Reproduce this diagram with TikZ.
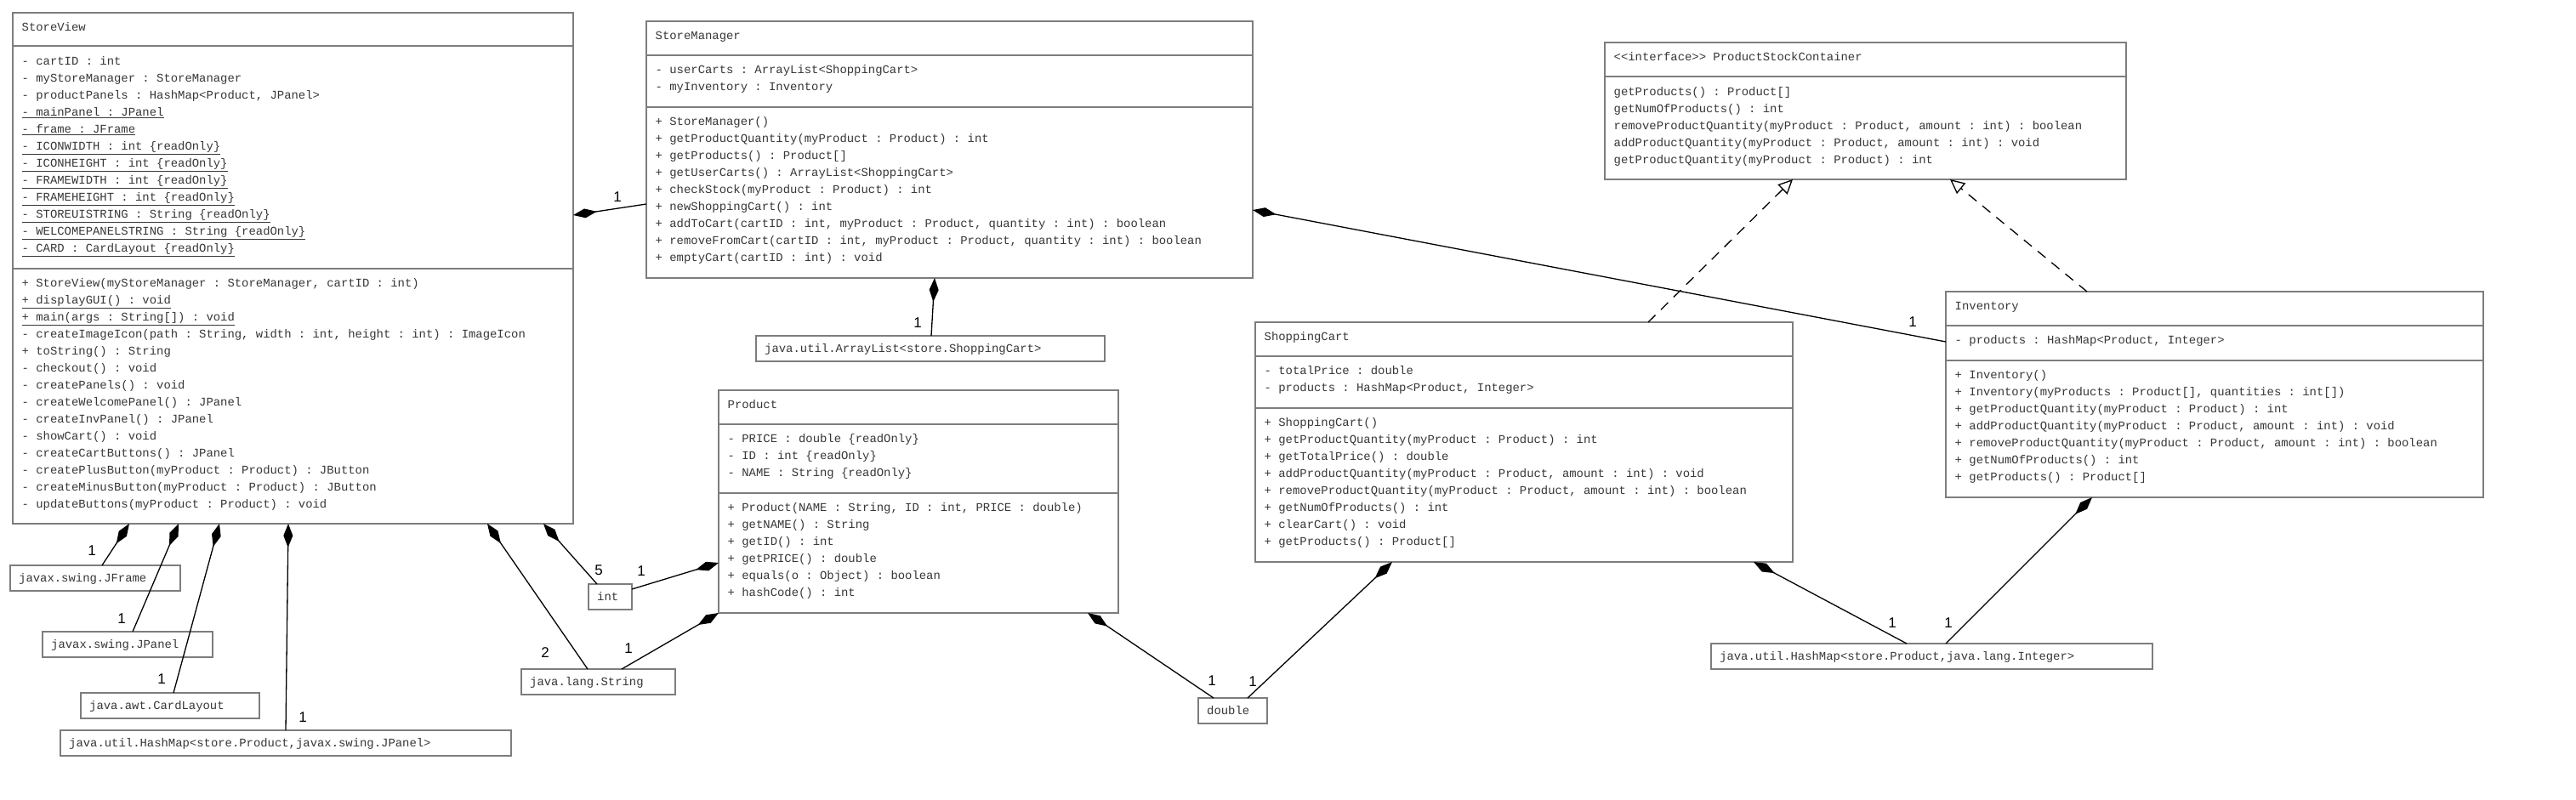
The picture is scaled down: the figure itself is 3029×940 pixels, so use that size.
\documentclass[tikz,border=0pt]{standalone}
\usepackage{fontspec}
\setmonofont{Liberation Mono}
\newfontfamily\labfont{Liberation Sans}
\usetikzlibrary{arrows.meta}
\definecolor{boxgray}{RGB}{125,125,125}
\definecolor{txtgray}{RGB}{55,55,55}
\tikzset{
 umlbox/.style={draw=boxgray, line width=2.4pt, fill=white, inner sep=0pt, outer sep=0pt, anchor=north west},
 sepline/.style={draw=boxgray, line width=2.4pt},
 mono/.style={font=\ttfamily\fontsize{13.9}{20}\selectfont, text=txtgray, inner sep=0pt, anchor=base west},
 mult/.style={font=\labfont\fontsize{17}{20}\selectfont, inner sep=0pt},
 comp/.style={line width=1.3pt, {Diamond[length=28pt,width=11pt]}-},
 realize/.style={line width=1.3pt, dash pattern=on 12pt off 9pt, -{Triangle[open,fill=white,length=17pt,width=16pt]}},
}
\newcommand{\classlines}[4]{%
 \foreach \t [count=\i] in {#4} \node[mono] (#1\i) at ({#2},{#3+4.5+20*(\i-1)}) {\t};}
\begin{document}
\begin{tikzpicture}[x=1pt,y=-1pt]
\fill[white] (0,0) rectangle (3029,940);
\useasboundingbox (0,0) rectangle (3029,940);

% ---------- StoreView
\node[umlbox, minimum width=659pt, minimum height=601pt] (sv) at (15,15) {};
\draw[sepline] ([yshift=-39pt]sv.north west) -- ([yshift=-39pt]sv.north east);
\draw[sepline] ([yshift=-301pt]sv.north west) -- ([yshift=-301pt]sv.north east);
\node[mono] (svh) at (25.5,36.5) {StoreView};
\classlines{sva}{25.5}{72}{{- cartID : int},{- myStoreManager : StoreManager},{- productPanels : HashMap<Product, JPanel>},{\underline{- mainPanel : JPanel}},{\underline{- frame : JFrame}},{\underline{- ICONWIDTH : int \{readOnly\}}},{\underline{- ICONHEIGHT : int \{readOnly\}}},{\underline{- FRAMEWIDTH : int \{readOnly\}}},{\underline{- FRAMEHEIGHT : int \{readOnly\}}},{\underline{- STOREUISTRING : String \{readOnly\}}},{\underline{- WELCOMEPANELSTRING : String \{readOnly\}}},{\underline{- CARD : CardLayout \{readOnly\}}}}
\classlines{svm}{25.5}{333}{{+ StoreView(myStoreManager : StoreManager, cartID : int)},{\underline{+ displayGUI() : void}},{\underline{+ main(args : String[]) : void}},{- createImageIcon(path : String, width : int, height : int) : ImageIcon},{+ toString() : String},{- checkout() : void},{- createPanels() : void},{- createWelcomePanel() : JPanel},{- createInvPanel() : JPanel},{- showCart() : void},{- createCartButtons() : JPanel},{- createPlusButton(myProduct : Product) : JButton},{- createMinusButton(myProduct : Product) : JButton},{- updateButtons(myProduct : Product) : void}}

% ---------- StoreManager
\node[umlbox, minimum width=713pt, minimum height=302pt] (sm) at (760,25) {};
\draw[sepline] ([yshift=-40pt]sm.north west) -- ([yshift=-40pt]sm.north east);
\draw[sepline] ([yshift=-101pt]sm.north west) -- ([yshift=-101pt]sm.north east);
\node[mono] (smh) at (770.5,46.5) {StoreManager};
\classlines{sma}{770.5}{82}{{- userCarts : ArrayList<ShoppingCart>},{- myInventory : Inventory}}
\classlines{smm}{770.5}{143}{{+ StoreManager()},{+ getProductQuantity(myProduct : Product) : int},{+ getProducts() : Product[]},{+ getUserCarts() : ArrayList<ShoppingCart>},{+ checkStock(myProduct : Product) : int},{+ newShoppingCart() : int},{+ addToCart(cartID : int, myProduct : Product, quantity : int) : boolean},{+ removeFromCart(cartID : int, myProduct : Product, quantity : int) : boolean},{+ emptyCart(cartID : int) : void}}

% ---------- ProductStockContainer
\node[umlbox, minimum width=613pt, minimum height=161pt] (psc) at (1887,50) {};
\draw[sepline] ([yshift=-40pt]psc.north west) -- ([yshift=-40pt]psc.north east);
\node[mono] (psch) at (1897.5,71.5) {<<interface>> ProductStockContainer};
\classlines{pscm}{1897.5}{108}{{getProducts() : Product[]},{getNumOfProducts() : int},{removeProductQuantity(myProduct : Product, amount : int) : boolean},{addProductQuantity(myProduct : Product, amount : int) : void},{getProductQuantity(myProduct : Product) : int}}

% ---------- Inventory
\node[umlbox, minimum width=632pt, minimum height=242pt] (inv) at (2288,343) {};
\draw[sepline] ([yshift=-40pt]inv.north west) -- ([yshift=-40pt]inv.north east);
\draw[sepline] ([yshift=-81pt]inv.north west) -- ([yshift=-81pt]inv.north east);
\node[mono] (invh) at (2298.5,364.5) {Inventory};
\classlines{inva}{2298.5}{400}{{- products : HashMap<Product, Integer>}}
\classlines{invm}{2298.5}{441}{{+ Inventory()},{+ Inventory(myProducts : Product[], quantities : int[])},{+ getProductQuantity(myProduct : Product) : int},{+ addProductQuantity(myProduct : Product, amount : int) : void},{+ removeProductQuantity(myProduct : Product, amount : int) : boolean},{+ getNumOfProducts() : int},{+ getProducts() : Product[]}}

% ---------- ShoppingCart
\node[umlbox, minimum width=632pt, minimum height=282pt] (sc) at (1476,379) {};
\draw[sepline] ([yshift=-40pt]sc.north west) -- ([yshift=-40pt]sc.north east);
\draw[sepline] ([yshift=-101pt]sc.north west) -- ([yshift=-101pt]sc.north east);
\node[mono] (sch) at (1486.5,400.5) {ShoppingCart};
\classlines{sca}{1486.5}{436}{{- totalPrice : double},{- products : HashMap<Product, Integer>}}
\classlines{scm}{1486.5}{497}{{+ ShoppingCart()},{+ getProductQuantity(myProduct : Product) : int},{+ getTotalPrice() : double},{+ addProductQuantity(myProduct : Product, amount : int) : void},{+ removeProductQuantity(myProduct : Product, amount : int) : boolean},{+ getNumOfProducts() : int},{+ clearCart() : void},{+ getProducts() : Product[]}}

% ---------- Product
\node[umlbox, minimum width=470pt, minimum height=262pt] (prod) at (845,459) {};
\draw[sepline] ([yshift=-40pt]prod.north west) -- ([yshift=-40pt]prod.north east);
\draw[sepline] ([yshift=-121pt]prod.north west) -- ([yshift=-121pt]prod.north east);
\node[mono] (prodh) at (855.5,480.5) {Product};
\classlines{proda}{855.5}{516}{{- PRICE : double \{readOnly\}},{- ID : int \{readOnly\}},{- NAME : String \{readOnly\}}}
\classlines{prodm}{855.5}{597}{{+ Product(NAME : String, ID : int, PRICE : double)},{+ getNAME() : String},{+ getID() : int},{+ getPRICE() : double},{+ equals(o : Object) : boolean},{+ hashCode() : int}}

% ---------- small type boxes
\node[umlbox, minimum width=410pt, minimum height=30pt] (al) at (889,395) {};
\node[mono] (alt) at ([xshift=10pt,yshift=-19.5pt]al.north west) {java.util.ArrayList<store.ShoppingCart>};
\node[umlbox, minimum width=200pt, minimum height=30pt] (jf) at (12,665) {};
\node[mono] (jft) at ([xshift=10pt,yshift=-19.5pt]jf.north west) {javax.swing.JFrame};
\node[umlbox, minimum width=200pt, minimum height=30pt] (jp) at (50,743) {};
\node[mono] (jpt) at ([xshift=10pt,yshift=-19.5pt]jp.north west) {javax.swing.JPanel};
\node[umlbox, minimum width=210pt, minimum height=30pt] (cl) at (95,815) {};
\node[mono] (clt) at ([xshift=10pt,yshift=-19.5pt]cl.north west) {java.awt.CardLayout};
\node[umlbox, minimum width=530pt, minimum height=30pt] (hmj) at (71,859) {};
\node[mono] (hmjt) at ([xshift=10pt,yshift=-19.5pt]hmj.north west) {java.util.HashMap<store.Product,javax.swing.JPanel>};
\node[umlbox, minimum width=51pt, minimum height=30pt] (int) at (692,687) {};
\node[mono] (intt) at ([xshift=10pt,yshift=-19.5pt]int.north west) {int};
\node[umlbox, minimum width=181pt, minimum height=30pt] (str) at (613,787) {};
\node[mono] (strt) at ([xshift=10pt,yshift=-19.5pt]str.north west) {java.lang.String};
\node[umlbox, minimum width=81pt, minimum height=30pt] (dbl) at (1409,821) {};
\node[mono] (dblt) at ([xshift=10pt,yshift=-19.5pt]dbl.north west) {double};
\node[umlbox, minimum width=519pt, minimum height=30pt] (hmi) at (2012,757) {};
\node[mono] (hmit) at ([xshift=10pt,yshift=-19.5pt]hmi.north west) {java.util.HashMap<store.Product,java.lang.Integer>};

% ---------- compositions
\draw[comp] ([yshift=-238pt]sv.north east) -- ([yshift=-215pt]sm.north west);
\draw[comp] ([yshift=-222pt]sm.north east) -- ([yshift=-59pt]inv.north west);
\draw[comp] ([xshift=339pt]sm.south west) -- ([xshift=206pt]al.north west);
\draw[comp] ([xshift=137pt]sv.south west) -- ([xshift=108pt]jf.north west);
\draw[comp] ([xshift=195pt]sv.south west) -- ([xshift=106pt]jp.north west);
\draw[comp] ([xshift=243pt]sv.south west) -- ([xshift=109pt]cl.north west);
\draw[comp] ([xshift=324pt]sv.south west) -- ([xshift=265pt]hmj.north west);
\draw[comp] ([xshift=558pt]sv.south west) -- ([xshift=78pt]str.north west);
\draw[comp] ([xshift=624pt]sv.south west) -- ([xshift=10pt]int.north west);
\draw[comp] ([yshift=-203pt]prod.north west) -- ([yshift=-6pt]int.north east);
\draw[comp] (prod.south west) -- ([xshift=118pt]str.north west);
\draw[comp] ([xshift=434pt]prod.south west) -- ([xshift=18pt]dbl.north west);
\draw[comp] ([xshift=161pt]sc.south west) -- ([xshift=58pt]dbl.north west);
\draw[comp] ([xshift=586pt]sc.south west) -- ([xshift=230pt]hmi.north west);
\draw[comp] ([xshift=172pt]inv.south west) -- ([xshift=276pt]hmi.north west);

% ---------- realizations
\draw[realize] ([xshift=462pt]sc.north west) -- ([xshift=221pt]psc.south west);
\draw[realize] ([xshift=166pt]inv.north west) -- ([xshift=406pt]psc.south west);

% ---------- multiplicities
\node[mult] (m1) at (726,232) {1};
\node[mult] (m2) at (2249,379) {1};
\node[mult] (m3) at (1079,380) {1};
\node[mult] (m4) at (108,648) {1};
\node[mult] (m5) at (143,728) {1};
\node[mult] (m6) at (190,799) {1};
\node[mult] (m7) at (356,844) {1};
\node[mult] (m8) at (641,768) {2};
\node[mult] (m9) at (704,671) {5};
\node[mult] (m10) at (754,672) {1};
\node[mult] (m11) at (739,763) {1};
\node[mult] (m12) at (1425,801) {1};
\node[mult] (m13) at (1473,802) {1};
\node[mult] (m14) at (2225,733) {1};
\node[mult] (m15) at (2291,733) {1};
\end{tikzpicture}
\end{document}
